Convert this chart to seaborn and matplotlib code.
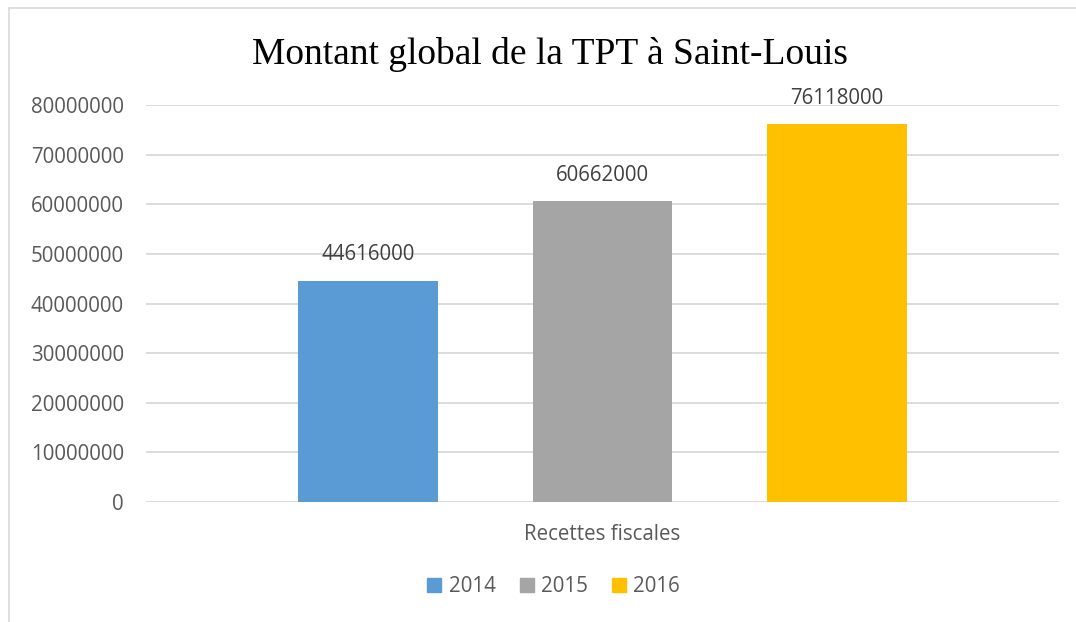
import pandas as pd
import seaborn as sns
import matplotlib.pyplot as plt
from matplotlib.lines import Line2D

# Data
categories = ["Recettes fiscales"]
years = ["2014", "2015", "2016"]
amounts = [44616000, 60662000, 76118000]
colors = ["#5B9BD5", "#A5A5A5", "#FFC000"]

df = pd.DataFrame({
    "categorie": categories * len(years),
    "annee": years,
    "montant": amounts,
})

sns.set_theme(style="white")
plt.rcParams["font.family"] = ["Open Sans", "DejaVu Sans"]

fig = plt.figure(figsize=(10.76, 6.22), dpi=100)
ax = fig.add_axes([146 / 1076, 1 - 502 / 622, 913 / 1076, 397 / 622])

sns.barplot(
    data=df, x="categorie", y="montant", hue="annee",
    palette=colors, width=0.769, gap=0.402, saturation=1,
    linewidth=0, legend=False, ax=ax, zorder=3,
)

ax.set_xlim(-0.5, 0.5)
ax.set_ylim(0, 80000000)
ax.set_yticks(range(0, 80000001, 10000000))
ax.set_yticklabels([str(v) for v in range(0, 80000001, 10000000)])
ax.grid(axis="y", color="#D9D9D9", linewidth=1.3, zorder=0)
ax.grid(axis="x", visible=False)
for s in ax.spines.values():
    s.set_visible(False)
ax.tick_params(axis="y", length=0, pad=16, labelsize=14.8, labelcolor="#595959")
ax.tick_params(axis="x", length=0, pad=16, labelsize=14.8, labelcolor="#595959")
ax.set_xlabel("")
ax.set_ylabel("")

for cont in ax.containers:
    ax.bar_label(cont, fmt="%d", padding=11, fontsize=14.8, color="#404040")

fig.text(550 / 1076, 1 - 55 / 622, "Montant global de la TPT à Saint-Louis",
         family="Liberation Serif", fontsize=27, ha="center", va="center", color="black")

# chart border
fig.add_artist(Line2D([9 / 1076, 1], [1 - 8 / 622] * 2, color="#D9D9D9", lw=1.2))
fig.add_artist(Line2D([9 / 1076] * 2, [0, 1 - 8 / 622], color="#D9D9D9", lw=1.2))

handles = [Line2D([], [], marker="s", linestyle="", markersize=10, color=c) for c in colors]
fig.legend(handles, years, loc="center", bbox_to_anchor=(553 / 1076, 1 - 587 / 622),
           ncol=3, frameon=False, fontsize=14.8, labelcolor="#595959",
           handletextpad=0.3, columnspacing=1.1, handlelength=0.8)

fig.savefig("out.png", dpi=100)
